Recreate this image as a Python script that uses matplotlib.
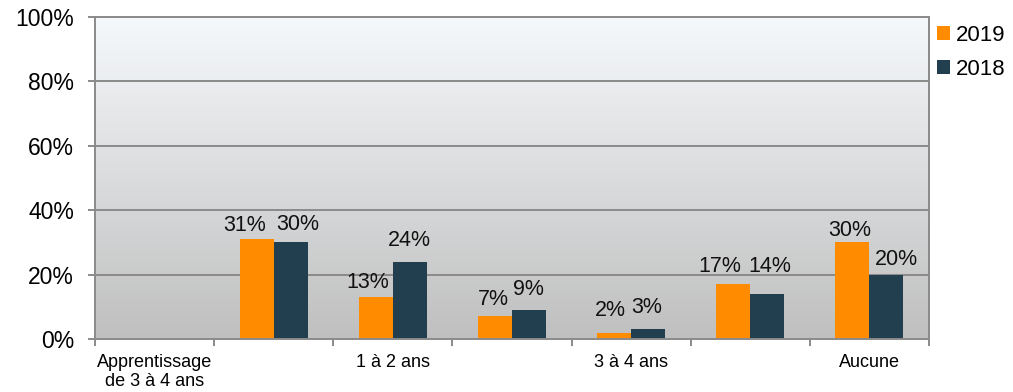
import matplotlib
matplotlib.use('Agg')
import matplotlib.pyplot as plt
import numpy as np

plt.rcParams['font.family'] = ['Liberation Sans', 'DejaVu Sans']

# categories (Excel skipped every other axis label; hidden ones left blank)
categories = ['Apprentissage\nde 3 à 4 ans', '', '1 à 2 ans', '', '3 à 4 ans', '', 'Aucune']
vals_2019 = [np.nan, 31, 13, 7, 2, 17, 30]
vals_2018 = [np.nan, 30, 24, 9, 3, 14, 20]
series_names = ['2019', '2018']
y_ticks = [0, 20, 40, 60, 80, 100]

COLORS = {'2019': '#FF8C00', '2018': '#223F4F'}

# data label nudges, in pixels (dx from bar centre, baseline height above bar top)
LABEL_DX = {'2019': [0, -12, -8, -2, -4, -14, -3],
            '2018': [0, 7, 0, -1, -1, 3, 10]}
LABEL_DY = {'2019': [0, 8, 9, 11, 17, 12, 6],
            '2018': [0, 12, 16, 15, 16, 22, 10]}
PX = 72 / 100  # px -> points at dpi 100

fig = plt.figure(figsize=(10.13, 3.92), dpi=100)
ax = fig.add_axes([0.0938, 0.1352, 0.9171 - 0.0938, 0.9566 - 0.1352])

n = len(categories)
x = np.arange(n)
w = 0.285

# gradient background (light blue-white at top to grey at bottom)
grad = np.linspace(0, 1, 256).reshape(-1, 1)
top = np.array([0.962, 0.973, 0.984])
bot = np.array([0.750, 0.750, 0.750])
img = top + (bot - top) * grad[..., None]
ax.imshow(img, extent=[-0.5, n - 0.5, 0, 100], origin='upper', aspect='auto', zorder=0)

for yt in y_ticks[1:-1]:
    ax.axhline(yt, color='#8A8A8A', lw=1.4, zorder=1)

for i, (name, vals) in enumerate(zip(series_names, [vals_2019, vals_2018])):
    pos = x + (i - 0.5) * w
    ax.bar(pos, vals, width=w, color=COLORS[name], label=name, zorder=2,
           edgecolor='none')
    for j, (px, v) in enumerate(zip(pos, vals)):
        if np.isnan(v):
            continue
        ax.annotate(f'{v:.0f}%', (px, v), xytext=(LABEL_DX[name][j] * PX, LABEL_DY[name][j] * PX),
                    textcoords='offset points', ha='center', va='baseline',
                    fontsize=15.5, color='#111111', zorder=3)

ax.set_xlim(-0.5, n - 0.5)
ax.set_ylim(0, 100)
ax.set_yticks(y_ticks)
ax.set_yticklabels([f'{t}%' for t in y_ticks], fontsize=16.5)
ax.set_xticks(x)
ax.set_xticklabels(categories, fontsize=13, linespacing=1.1)
ax.set_xticks(np.arange(n + 1) - 0.5, minor=True)
ax.tick_params(axis='x', which='major', length=0, pad=11)
ax.tick_params(axis='x', which='minor', length=5, width=1.4, color='#8A8A8A')
ax.tick_params(axis='y', length=5, width=1.4, color='#8A8A8A', pad=10)

for s in ax.spines.values():
    s.set_color('#8A8A8A')
    s.set_linewidth(1.4)

fig.legend(loc='upper left', bbox_to_anchor=(0.916, 0.96), frameon=False,
           fontsize=16, handlelength=0.6, handleheight=0.6, handletextpad=0.25,
           labelspacing=0.6, borderaxespad=0)

fig.savefig('out.png', dpi=100)
